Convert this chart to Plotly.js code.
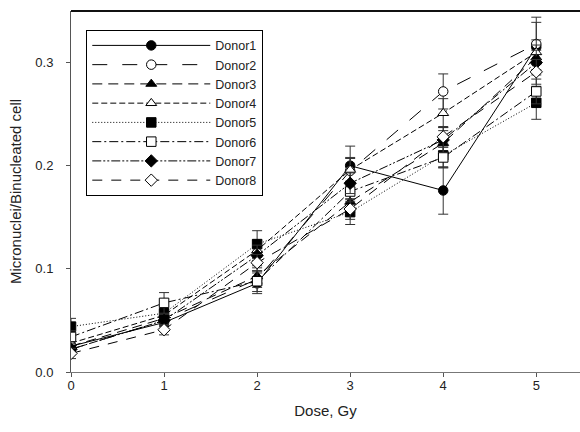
<!DOCTYPE html>
<html>
<head>
<meta charset="utf-8">
<script src="https://cdn.plot.ly/plotly-3.0.1.min.js"></script>
<style>html,body{margin:0;padding:0;background:#fff;}#chart{width:580px;height:432px;}</style>
</head>
<body>
<div id="chart"></div>
<script>
var doses = [0, 1, 2, 3, 4, 5];
var donorNames = ["Donor1","Donor2","Donor3","Donor4","Donor5","Donor6","Donor7","Donor8"];
var donor1 = [0.025, 0.048, 0.086, 0.200, 0.176, 0.315];
var donor2 = [0.022, 0.050, 0.090, 0.195, 0.272, 0.318];
var donor3 = [0.025, 0.052, 0.093, 0.165, 0.222, 0.305];
var donor4 = [0.028, 0.055, 0.118, 0.196, 0.251, 0.310];
var donor5 = [0.044, 0.057, 0.124, 0.155, 0.210, 0.261];
var donor6 = [0.034, 0.067, 0.088, 0.175, 0.208, 0.272];
var donor7 = [0.022, 0.050, 0.113, 0.183, 0.225, 0.300];
var donor8 = [0.018, 0.041, 0.106, 0.158, 0.228, 0.291];
var err1 = [0.006, 0.006, 0.010, 0.019, 0.023, 0.024];
var err2 = [0.005, 0.005, 0.008, 0.012, 0.017, 0.026];
var err3 = [0.005, 0.005, 0.008, 0.010, 0.012, 0.012];
var err4 = [0.005, 0.006, 0.010, 0.012, 0.014, 0.012];
var err5 = [0.008, 0.006, 0.013, 0.012, 0.012, 0.016];
var err6 = [0.006, 0.010, 0.010, 0.010, 0.010, 0.012];
var err7 = [0.005, 0.006, 0.010, 0.010, 0.012, 0.012];
var err8 = [0.005, 0.005, 0.008, 0.010, 0.010, 0.012];

var values = [donor1, donor2, donor3, donor4, donor5, donor6, donor7, donor8];
var errors = [err1, err2, err3, err4, err5, err6, err7, err8];
var symbols = ["circle","circle-open","triangle-up","triangle-up-open","square","square-open","diamond","diamond-open"];
var dashes = ["solid","longdash","10px,6px","6px,3px","1px,2px","9px,3px,2px,3px","9px,2px,2px,2px,2px,2px","10px,9px"];

var traces = donorNames.map(function(n, i){
  var open = symbols[i].indexOf("open") >= 0;
  return {
    x: doses, y: values[i], name: n, type: "scatter", mode: "lines+markers",
    line: {color: "#000", width: 1, dash: dashes[i]},
    marker: {symbol: open ? symbols[i].replace("-open","") : symbols[i], size: 9.5,
             color: open ? "#fff" : "#000", line: {color: "#000", width: 1}},
    error_y: {type: "data", array: errors[i], visible: true, color: "#333", thickness: 1, width: 5}
  };
});

var layout = {
  width: 580, height: 432,
  margin: {l: 71, r: 0, t: 11, b: 60},
  paper_bgcolor: "#fff", plot_bgcolor: "#fff",
  font: {family: "Liberation Sans, Arial, sans-serif", color: "#222", size: 13},
  showlegend: true,
  legend: {x: 0.03, y: 0.948, xanchor: "left", yanchor: "top", bgcolor: "#fff",
           bordercolor: "#000", borderwidth: 1, itemwidth: 118, tracegroupgap: 0,
           font: {size: 12.5, color: "#222"}},
  xaxis: {range: [0, 5.47], tickvals: doses, ticktext: ["0","1","2","3","4","5"],
          showgrid: false, zeroline: false, showline: true, linecolor: "#777", linewidth: 1,
          ticks: "outside", ticklen: 4, tickcolor: "#555", tickfont: {size: 13}, ticklabelstandoff: -3,
          title: {text: "Dose, Gy", font: {size: 15, color: "#222"}, standoff: 13}},
  yaxis: {range: [0, 0.35], tickvals: [0, 0.1, 0.2, 0.3], ticktext: ["0.0","0.1","0.2","0.3"],
          showgrid: false, zeroline: false, showline: true, linecolor: "#555", linewidth: 1,
          ticks: "outside", ticklen: 4, tickcolor: "#555", tickfont: {size: 13}, ticklabelstandoff: 10,
          title: {text: "Micronuclei/Binucleated cell", font: {size: 15, color: "#222"}, standoff: 10}},
  shapes: [{type: "line", xref: "paper", yref: "paper", x0: 0, x1: 1, y0: 1, y1: 1,
            line: {color: "#111", width: 2}}]
};

Plotly.newPlot("chart", traces, layout, {displayModeBar: false, staticPlot: true});
</script>
</body>
</html>
